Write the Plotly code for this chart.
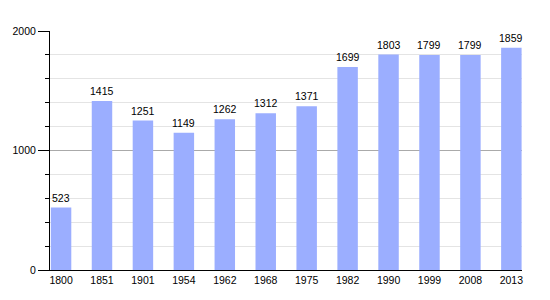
import plotly.graph_objects as go

years = ["1800", "1851", "1901", "1954", "1962", "1968", "1975", "1982", "1990", "1999", "2008", "2013"]
population = [523, 1415, 1251, 1149, 1262, 1312, 1371, 1699, 1803, 1799, 1799, 1859]

fig = go.Figure()
fig.add_trace(go.Bar(
    x=years, y=population,
    marker=dict(color="#9BAEFF", line=dict(width=0)),
    hoverinfo="x+y",
))

# value labels above each bar (category index used as position on the category axis)
for i, v in enumerate(population):
    fig.add_annotation(
        x=i, y=v, text=str(v),
        showarrow=False, yanchor="bottom", yshift=2,
        font=dict(size=10.5, color="black"),
    )

fig.update_layout(
    width=550, height=300,
    margin=dict(l=50, r=28, t=31, b=30),
    plot_bgcolor="white", paper_bgcolor="white",
    font=dict(family="Liberation Sans, Arial, sans-serif", size=10.5, color="black"),
    bargap=0.5,
    showlegend=False,
)
fig.update_xaxes(
    type="category",
    range=[-0.27, 11.26],
    showline=True, linecolor="black", linewidth=1,
    ticks="", tickfont=dict(size=10.5),
)
fig.update_yaxes(
    range=[0, 2000], dtick=1000,
    showline=True, linecolor="black", linewidth=1,
    gridcolor="#AAAAAA", gridwidth=1,
    ticks="outside", ticklen=11, tickcolor="black",
    minor=dict(dtick=200, showgrid=True, gridcolor="#E4E4E4", ticks="outside", ticklen=4, tickcolor="black"),
    zeroline=False,
    tickfont=dict(size=10.5),
)

fig.write_html("out.html")
